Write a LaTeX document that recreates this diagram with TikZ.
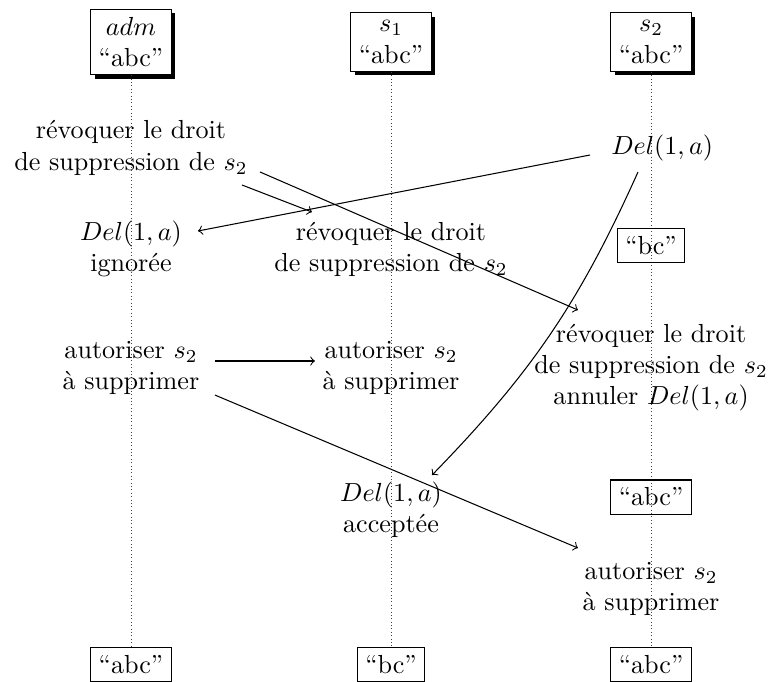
\documentclass[tikz,border=0pt]{standalone}
\usetikzlibrary{shadows}
\begin{document}
\begin{tikzpicture}[
  every node/.style={align=center},
  topbox/.style={draw, fill=white, inner sep=3pt, drop shadow={opacity=1, fill=black, shadow xshift=1.5pt, shadow yshift=-1.5pt}},
  statebox/.style={draw, inner sep=3pt},
  life/.style={densely dotted, line width=0.3pt, black!75},
  msg/.style={->}
]
\useasboundingbox (-1.763,0) rectangle (8.587,-9.179);
% top
\node[topbox] (admtop) at (0,-0.565) {$adm$\\``abc''};
\node[topbox] (s1top) at (3.5,-0.565) {$s_1$\\``abc''};
\node[topbox] (s2top) at (7,-0.565) {$s_2$\\``abc''};
% bottom
\node[statebox] (admbot) at (0,-8.95) {``abc''};
\node[statebox] (s1bot) at (3.5,-8.95) {``bc''};
\node[statebox] (s2bot) at (7,-8.95) {``abc''};
% lifelines
\draw[life] (admtop) -- (admbot);
\draw[life] (s1top) -- (s1bot);
\draw[life] (s2top) -- (s2bot);
% events
\node (admrev) at (0,-1.99) {révoquer le droit\\de suppression de $s_2$};
\node (s2del) at (7.15,-1.99) {$Del(1,a)$};
\node (admdel) at (0,-3.35) {$Del(1,a)$\\ignorée};
\node (s1rev) at (3.5,-3.36) {révoquer le droit\\de suppression de $s_2$};
\node[statebox] (s2bc) at (7,-3.30) {``bc''};
\node (s2rev) at (7,-4.95) {révoquer le droit\\de suppression de $s_2$\\annuler $Del(1,a)$};
\node (admaut) at (0,-4.95) {autoriser $s_2$\\à supprimer};
\node (s1aut) at (3.5,-4.95) {autoriser $s_2$\\à supprimer};
\node (s1del) at (3.5,-6.86) {$Del(1,a)$\\acceptée};
\node[statebox] (s2abc) at (7,-6.69) {``abc''};
\node (s2aut) at (7,-7.93) {autoriser $s_2$\\à supprimer};
% messages
\draw[msg] ([shift={(1.494,-0.50)}]admrev.center) -- ([shift={(-1.064,0.506)}]s1rev.center);
\draw[msg] ([shift={(1.737,-0.325)}]admrev.center) -- ([shift={(-0.984,0.777)}]s2rev.center);
\draw[msg] ([shift={(-0.971,-0.096)}]s2del.center) -- ([shift={(0.902,0.241)}]admdel.center);
\draw[msg] ([shift={(-0.326,-0.325)}]s2del.center) to[bend left=10] ([shift={(0.552,0.466)}]s1del.center);
\draw[msg] ([shift={(1.13,0.091)}]admaut.center) -- ([shift={(-1.024,0.091)}]s1aut.center);
\draw[msg] ([shift={(1.13,-0.367)}]admaut.center) -- ([shift={(-0.984,0.554)}]s2aut.center);
\end{tikzpicture}
\end{document}
